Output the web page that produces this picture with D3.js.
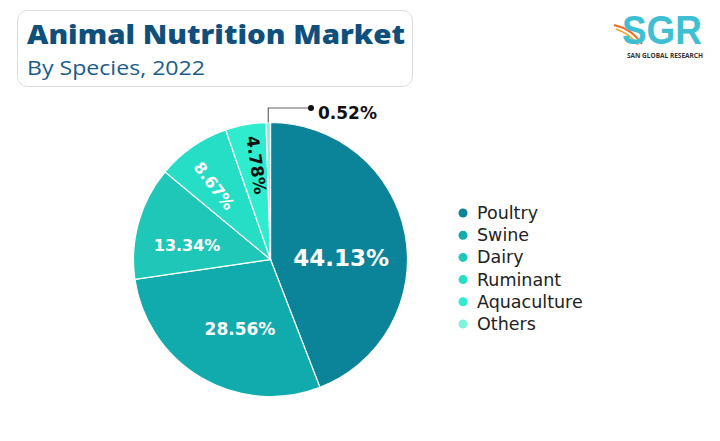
<!DOCTYPE html>
<html><head><meta charset="utf-8">
<script src="https://cdn.jsdelivr.net/npm/d3@7"></script>
<style>
html,body{margin:0;padding:0;background:#fff;}
svg{display:block;}
text{font-family:"Open Sans","Noto Sans",sans-serif;}
</style></head>
<body>
<svg id="chart" width="720" height="441"></svg>
<script>
const categories = ["Poultry","Swine","Dairy","Ruminant","Aquaculture","Others"];
const values = [44.13, 28.56, 13.34, 8.67, 4.78, 0.52];
const colors = ["#0b8399","#12abad","#1ec7b8","#26ddc6","#30ecce","#7ff3e0"];
const labels = ["44.13%","28.56%","13.34%","8.67%","4.78%","0.52%"];
const titleText = "Animal Nutrition Market";
const subtitleText = "By Species, 2022";

const svg = d3.select("#chart");
const bold = "'DejaVu Sans',sans-serif";

// Title box
svg.append("rect").attr("x",17.5).attr("y",10.5).attr("width",395).attr("height",76)
  .attr("rx",10).attr("fill","#fff").attr("stroke","#dcdcdc").attr("stroke-width",1);
svg.append("text").attr("x",27).attr("y",44).text(titleText)
  .attr("font-size",27).attr("font-weight",800).attr("fill","#0f4f7b")
  .attr("textLength",378).attr("lengthAdjust","spacingAndGlyphs");
svg.append("text").attr("x",27).attr("y",75).text(subtitleText)
  .attr("font-size",20).attr("fill","#1b5c8c")
  .attr("textLength",178).attr("lengthAdjust","spacingAndGlyphs");

// Logo
const logo = svg.append("g");
logo.append("path").attr("d","M614,25 Q632,29 642,44").attr("fill","none").attr("stroke","#f26b21").attr("stroke-width",2);
logo.append("path").attr("d","M616,29 Q630,34 638,45").attr("fill","none").attr("stroke","#f7a21b").attr("stroke-width",1.5);
logo.append("text").attr("x",622).attr("y",44).text("SGR")
  .attr("font-size",40).attr("font-weight",700).attr("fill","#3fc0d2")
  .attr("textLength",80).attr("lengthAdjust","spacingAndGlyphs")
  .style("font-family","'Liberation Sans',sans-serif");
logo.append("text").attr("x",627).attr("y",58).text("SAN GLOBAL RESEARCH")
  .attr("font-size",6.5).attr("font-weight",700).attr("fill","#333")
  .attr("textLength",76).attr("lengthAdjust","spacingAndGlyphs");

// Pie
const cx = 270.5, cy = 259.5, r = 137;
const data = categories.map((c,i)=>({cat:c, value:values[i], color:colors[i], label:labels[i]}));
const pie = d3.pie().value(d=>d.value).sort(null);
const arcs = pie(data);
const arc = d3.arc().innerRadius(0).outerRadius(r);
const g = svg.append("g").attr("transform",`translate(${cx},${cy})`);
g.selectAll("path").data(arcs).join("path")
  .attr("d",arc).attr("fill",d=>d.data.color)
  .attr("stroke","#ffffff").attr("stroke-width",1.2);

// labels: radius fraction, angle offset (deg), size, colour, rotated
const labelCfg = [
  {rf:0.515, off:9.4, size:23, fill:"#fff", rot:false},
  {rf:0.555, off:-6.6, size:17, fill:"#fff", rot:false},
  {rf:0.617, off:-6.5, size:16, fill:"#fff", rot:false},
  {rf:0.677, off:-2.8, size:16, fill:"#fff", rot:true},
  {rf:0.697, off:2.0, size:17, fill:"#111", rot:true}
];
arcs.forEach((a,i)=>{
  if(i>=labelCfg.length) return;
  const cfg = labelCfg[i];
  const ang = (a.startAngle+a.endAngle)/2 + cfg.off*Math.PI/180;
  const x = Math.sin(ang)*r*cfg.rf, y = -Math.cos(ang)*r*cfg.rf;
  const deg = ang*180/Math.PI;
  const t = g.append("text").attr("text-anchor","middle").attr("dominant-baseline","central")
    .attr("font-size",cfg.size).attr("font-weight",700).attr("fill",cfg.fill)
    .style("font-family",bold).text(a.data.label);
  if(cfg.rot) t.attr("transform",`translate(${x},${y}) rotate(${deg-270})`);
  else t.attr("transform",`translate(${x},${y})`);
});

// Others leader
const last = arcs[arcs.length-1];
const lm = (last.startAngle+last.endAngle)/2;
const px = cx + Math.sin(lm)*r, py = cy - Math.cos(lm)*r;
svg.append("path").attr("d",`M${px},${py} L${px},108 L311,108`)
  .attr("fill","none").attr("stroke","#666").attr("stroke-width",1.2);
svg.append("circle").attr("cx",311).attr("cy",108).attr("r",3).attr("fill","#111");
svg.append("text").attr("x",318).attr("y",118.5).text(last.data.label)
  .attr("font-size",17).attr("font-weight",700).attr("fill","#111").style("font-family",bold);

// Legend
const leg = svg.append("g");
data.forEach((d,i)=>{
  const y = 213 + i*22.2;
  leg.append("circle").attr("cx",463).attr("cy",y).attr("r",4.5).attr("fill",d.color);
  leg.append("text").attr("x",477).attr("y",y).attr("dominant-baseline","central")
    .attr("font-size",17.5).attr("fill","#222").style("font-family","'DejaVu Sans',sans-serif").text(d.cat);
});
</script>
</body></html>
